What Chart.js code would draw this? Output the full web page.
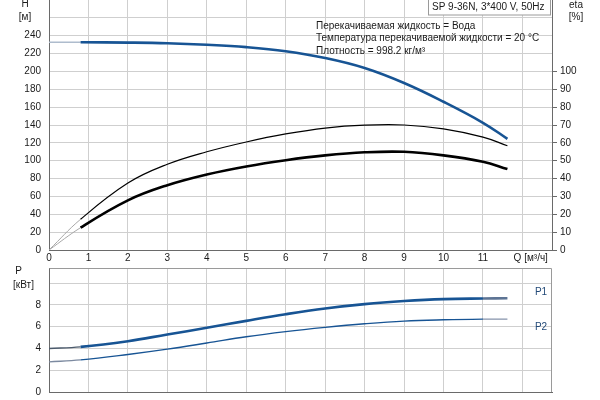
<!DOCTYPE html>
<html><head><meta charset="utf-8">
<script src="https://cdn.jsdelivr.net/npm/chart.js@4.4.1/dist/chart.umd.min.js"></script>
<style>
html,body{margin:0;padding:0;background:#fff;}
#wrap{position:relative;width:600px;height:400px;overflow:hidden;background:#fff;}
#c1{position:absolute;left:0;top:0;}
#c2{position:absolute;left:0;top:262px;}
</style></head><body>
<div id="wrap"><canvas id="c1" width="600" height="268"></canvas><canvas id="c2" width="600" height="138"></canvas></div>
<script>
// ---- data ----
const flowQ    = [0, 0.8, 2, 3, 4, 5, 6, 7, 8, 9, 10, 11, 11.62];
const headH    = [232.6, 232.6, 232.3, 231.6, 229.9, 227.2, 222.6, 215, 203.8, 187, 166, 142.5, 124.5];
const etaPump  = [0, 17.2, 37.5, 48, 55, 60.5, 65, 68.3, 69.9, 70, 67.8, 63.2, 58.4];
const etaTotal = [0, 12.5, 27.8, 36.3, 42.3, 46.8, 50.3, 53, 54.7, 55, 53, 49.4, 45.3];
const powerP1  = [4.0, 4.15, 4.67, 5.29, 5.9, 6.54, 7.15, 7.68, 8.08, 8.36, 8.54, 8.6, 8.62];
const powerP2  = [2.77, 2.95, 3.45, 3.94, 4.5, 5.08, 5.55, 5.94, 6.27, 6.52, 6.64, 6.7, 6.7];
const qTicks   = [0, 1, 2, 3, 4, 5, 6, 7, 8, 9, 10, 11, 12];
const hTicks   = [0, 20, 40, 60, 80, 100, 120, 140, 160, 180, 200, 220, 240, 260];
const etaTicks = [0, 10, 20, 30, 40, 50, 60, 70, 80, 90, 100];
const pTicks   = [0, 2, 4, 6, 8, 10];
const qUnitLabel = 'Q [м³/ч]';
const titleText = 'SP 9-36N, 3*400 V, 50Hz';
const infoLines = ['Перекачиваемая жидкость = Вода', 'Температура перекачиваемой жидкости = 20 °C', 'Плотность = 998.2 кг/м³'];

const FONT = '"Liberation Sans", Arial, sans-serif';
const GRID = '#cfcfcf';
const AXIS = '#6a6a6a';
const TXT = '#1a1a1a';
const BLUE = '#175494';
const TENSION = 0.4;

const pts = (ys) => flowQ.map((q, i) => ({x: q, y: ys[i]}));
const startGrey = (grey, w) => ({
  borderColor: c => c.p0.parsed.x < 0.79 ? grey : undefined,
  borderWidth: c => c.p0.parsed.x < 0.79 ? w : undefined
});

const fixY = (w) => (s) => { s.width = w; s.paddingTop = 0; s.paddingBottom = 0; };
const fixX = (h) => (s) => { s.height = h; s.paddingLeft = 0; s.paddingRight = 0; };

const topText = {
  id: 'topText',
  afterDraw(chart) {
    const ctx = chart.ctx;
    ctx.save();
    ctx.font = '10px ' + FONT;
    ctx.fillStyle = TXT;
    ctx.textBaseline = 'middle';
    ctx.textAlign = 'center';
    ctx.fillText('H', 25, 4);
    ctx.fillText('[м]', 25, 17.5);
    ctx.fillText('eta', 576, 5);
    ctx.fillText('[%]', 576, 17);
    ctx.textAlign = 'left';
    infoLines.forEach((t, i) => ctx.fillText(t, 316, 26 + i * 12.6));
    // title box
    ctx.fillStyle = '#fff';
    ctx.fillRect(428.5, -1, 122, 16);
    ctx.strokeStyle = '#9a9a9a';
    ctx.lineWidth = 1;
    ctx.strokeRect(428.5, -1, 122, 16);
    ctx.fillStyle = TXT;
    ctx.fillText(titleText, 432, 7.5);
    ctx.restore();
  }
};

const botText = {
  id: 'botText',
  beforeDatasetsDraw(chart) {
    const a = chart.chartArea, ctx = chart.ctx;
    ctx.save();
    ctx.strokeStyle = '#9a9a9a';
    ctx.lineWidth = 1;
    ctx.beginPath();
    ctx.moveTo(Math.round(a.left) + 0.5, Math.round(a.top) + 0.5);
    ctx.lineTo(Math.round(a.right) - 0.5, Math.round(a.top) + 0.5);
    ctx.lineTo(Math.round(a.right) - 0.5, Math.round(a.bottom));
    ctx.stroke();
    ctx.restore();
  },
  afterDraw(chart) {
    const ctx = chart.ctx;
    ctx.save();
    ctx.font = '10px ' + FONT;
    ctx.fillStyle = TXT;
    ctx.textBaseline = 'middle';
    ctx.textAlign = 'center';
    ctx.fillText('P', 18.5, 9.5);
    ctx.fillText('[кВт]', 23.5, 23);
    ctx.fillStyle = '#234a78';
    ctx.fillText('P1', 541, 30);
    ctx.fillText('P2', 541, 65);
    ctx.restore();
  }
};

const tickFont = {family: FONT, size: 10};

new Chart(document.getElementById('c1'), {
  type: 'line',
  data: {
    datasets: [
      {label: 'H', data: pts(headH), yAxisID: 'y', borderColor: BLUE, borderWidth: 2.6,
       segment: startGrey('#aebccd', 1.6), pointRadius: 0, tension: TENSION, fill: false},
      {label: 'eta', data: pts(etaPump), yAxisID: 'y2', borderColor: '#000', borderWidth: 1.2,
       segment: startGrey('#a8a8a8', 1), pointRadius: 0, tension: TENSION, fill: false},
      {label: 'eta total', data: pts(etaTotal), yAxisID: 'y2', borderColor: '#000', borderWidth: 2.6,
       segment: startGrey('#a8a8a8', 1), pointRadius: 0, tension: TENSION, fill: false}
    ]
  },
  options: {
    responsive: false, animation: false, devicePixelRatio: 1,
    layout: {padding: 0},
    plugins: {legend: {display: false}, tooltip: {enabled: false}},
    scales: {
      x: {type: 'linear', min: 0, max: 12.75,
          afterBuildTicks: s => { s.ticks = qTicks.map(v => ({value: v})); },
          afterFit: fixX(18),
          ticks: {font: tickFont, color: TXT, padding: 2, maxRotation: 0, autoSkip: false,
                  callback: v => v === 12 ? '      ' + qUnitLabel : String(v)},
          grid: {color: GRID, drawTicks: false},
          border: {color: AXIS}},
      y: {type: 'linear', position: 'left', min: 0, max: 280,
          afterBuildTicks: s => { s.ticks = hTicks.map(v => ({value: v})); },
          afterFit: fixY(49),
          ticks: {font: tickFont, color: TXT, padding: 8, callback: v => v > 240 ? '' : String(v)},
          grid: {color: GRID, drawTicks: false},
          border: {color: AXIS}},
      y2: {type: 'linear', position: 'right', min: 0, max: 140,
          afterBuildTicks: s => { s.ticks = etaTicks.map(v => ({value: v})); },
          afterFit: fixY(48),
          ticks: {font: tickFont, color: TXT, padding: 3, callback: v => String(v)},
          grid: {drawOnChartArea: false, drawTicks: true, tickLength: 5, tickColor: AXIS},
          border: {color: AXIS}}
    }
  },
  plugins: [topText]
});

new Chart(document.getElementById('c2'), {
  type: 'line',
  data: {
    datasets: [
      {label: 'P1', data: pts(powerP1), borderColor: BLUE, borderWidth: 2.6,
       segment: {
         borderColor: c => c.p0.parsed.x < 0.79 ? '#4b5a6c' : (c.p0.parsed.x >= 10.9 ? '#5d7494' : undefined),
         borderWidth: c => c.p0.parsed.x < 0.79 ? 1.4 : undefined
       },
       pointRadius: 0, tension: TENSION, fill: false},
      {label: 'P2', data: pts(powerP2), borderColor: BLUE, borderWidth: 1.4,
       segment: {
         borderColor: c => c.p0.parsed.x < 0.79 ? '#7c8aa0' : (c.p0.parsed.x >= 10.9 ? '#8593ab' : undefined)
       },
       pointRadius: 0, tension: TENSION, fill: false}
    ]
  },
  options: {
    responsive: false, animation: false, devicePixelRatio: 1,
    layout: {padding: {top: 6, right: 48, left: 0, bottom: 0}},
    plugins: {legend: {display: false}, tooltip: {enabled: false}},
    scales: {
      x: {type: 'linear', min: 0, max: 12.75,
          afterBuildTicks: s => { s.ticks = qTicks.map(v => ({value: v})); },
          afterFit: fixX(8),
          ticks: {display: false},
          grid: {color: GRID, drawTicks: false},
          border: {color: AXIS}},
      y: {type: 'linear', position: 'left', min: 0, max: 11.4,
          afterBuildTicks: s => { s.ticks = pTicks.map(v => ({value: v})); },
          afterFit: fixY(49),
          ticks: {font: tickFont, color: TXT, padding: 8, callback: v => v > 8 ? '' : String(v)},
          grid: {color: GRID, drawTicks: false},
          border: {color: AXIS}}
    }
  },
  plugins: [botText]
});
</script>
</body></html>
